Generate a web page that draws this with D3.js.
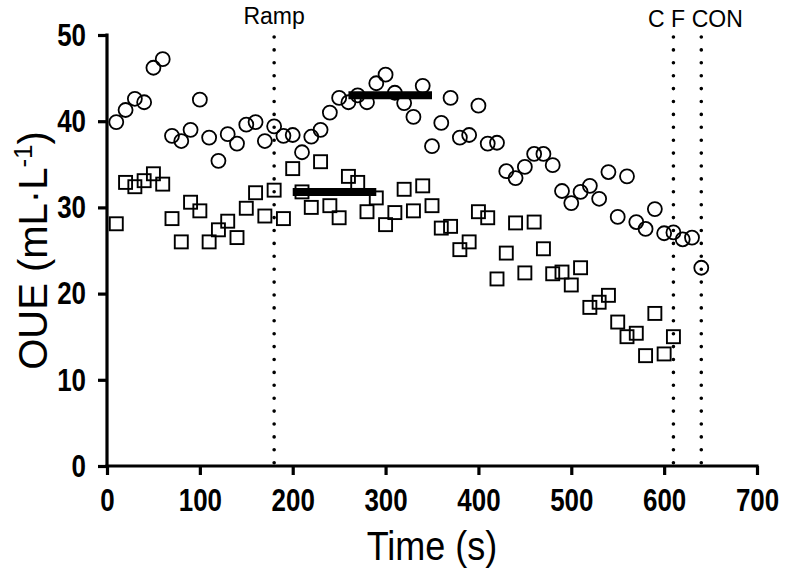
<!DOCTYPE html>
<html>
<head>
<meta charset="utf-8">
<script src="https://cdn.jsdelivr.net/npm/d3@7"></script>
<style>
  html, body { margin: 0; padding: 0; background: #fff; }
  svg { display: block; }
</style>
</head>
<body>
<svg id="chart" width="786" height="574"></svg>
<script>
// ---- data ----
const circleTimes = [10,20,30,40,50,60,70,80,90,100,110,120,130,140,150,160,170,180,190,200,
  210,220,230,240,250,260,270,280,290,300,310,320,330,340,350,360,370,380,390,400,
  410,420,430,440,450,460,470,480,490,500,510,520,530,540,550,560,570,580,590,600,
  610,620,630,640];
const circleValues = [39.9,41.3,42.6,42.2,46.2,47.2,38.3,37.7,39.0,42.5,
  38.1,35.4,38.5,37.4,39.6,39.9,37.7,39.4,38.3,38.4,
  36.4,38.2,39.0,41.0,42.7,42.2,43.0,42.2,44.4,45.4,
  43.3,42.1,40.5,44.1,37.1,39.8,42.7,38.1,38.4,41.8,
  37.4,37.5,34.2,33.4,34.7,36.2,36.2,34.9,31.9,30.5,
  31.8,32.5,31.0,34.1,28.9,33.6,28.3,27.5,29.8,27.0,
  27.1,26.3,26.5,23.0];
const squareTimes = [10,20,30,40,50,60,70,80,90,100,110,120,130,140,150,160,170,180,190,200,
  210,220,230,240,250,260,270,280,290,300,310,320,330,340,350,360,370,380,390,400,
  410,420,430,440,450,460,470,480,490,500,510,520,530,540,550,560,570,580,590,600,610];
const squareValues = [28.1,32.9,32.4,33.1,33.9,32.7,28.7,26.0,30.6,29.6,
  26.0,27.4,28.4,26.5,29.9,31.7,29.0,32.0,28.7,34.5,
  31.8,30.0,35.3,30.2,28.8,33.6,32.9,29.5,31.1,28.0,
  29.4,32.1,29.6,32.5,30.2,27.6,27.8,25.1,26.0,29.5,
  28.8,21.7,24.7,28.2,22.4,28.3,25.2,22.3,22.5,21.0,
  23.0,18.4,19.0,19.8,16.7,15.0,15.4,12.8,17.7,13.0,15.0];
const circleMean = {start: 260, end: 350, value: 43.0};
const squareMean = {start: 200, end: 290, value: 31.8};
const eventTimes = [180, 610, 640];
const eventLabels = [
  {text: "Ramp", t: 180, dx: 0, y: 24},
  {text: "C F", t: 610, dx: -7, y: 27},
  {text: "CON", t: 640, dx: 16, y: 27}
];
const xTicks = [0,100,200,300,400,500,600,700];
const yTicks = [0,10,20,30,40,50];

// ---- layout ----
const svg = d3.select("#chart");
const x = d3.scaleLinear().domain([0, 700]).range([107, 757]);
const y = d3.scaleLinear().domain([0, 50]).range([466, 35]);
const font = "'Liberation Sans', Arial, sans-serif";

// markers
const gC = svg.append("g");
gC.selectAll("circle").data(circleTimes).join("circle")
  .attr("cx", d => x(d))
  .attr("cy", (d, i) => y(circleValues[i]))
  .attr("r", 7)
  .attr("fill", "none")
  .attr("stroke", "#000")
  .attr("stroke-width", 1.8);

const s = 13;
const gS = svg.append("g");
gS.selectAll("rect").data(squareTimes).join("rect")
  .attr("x", d => x(d) - s / 2)
  .attr("y", (d, i) => y(squareValues[i]) - s / 2)
  .attr("width", s)
  .attr("height", s)
  .attr("fill", "none")
  .attr("stroke", "#000")
  .attr("stroke-width", 1.9);

// mean bars
[circleMean, squareMean].forEach(m => {
  svg.append("line")
    .attr("x1", x(m.start)).attr("x2", x(m.end))
    .attr("y1", y(m.value)).attr("y2", y(m.value))
    .attr("stroke", "#000").attr("stroke-width", 8);
});

// event dotted lines
svg.append("g").selectAll("line").data(eventTimes).join("line")
  .attr("x1", d => x(d)).attr("x2", d => x(d))
  .attr("y1", y(50) + 2).attr("y2", y(0))
  .attr("stroke", "#000")
  .attr("stroke-width", 3.6)
  .attr("stroke-linecap", "round")
  .attr("stroke-dasharray", "0,12.9");

svg.append("g").selectAll("text").data(eventLabels).join("text")
  .attr("x", d => x(d.t) + d.dx)
  .attr("y", d => d.y)
  .attr("text-anchor", "middle")
  .attr("font-family", font)
  .attr("font-size", 23)
  .text(d => d.text);

// axes
const xAxis = svg.append("g").attr("transform", "translate(0,466)")
  .call(d3.axisBottom(x).tickValues(xTicks).tickSize(9).tickSizeOuter(0));
const yAxis = svg.append("g").attr("transform", "translate(107,0)")
  .call(d3.axisLeft(y).tickValues(yTicks).tickSize(9).tickSizeOuter(0));
[xAxis, yAxis].forEach(a => {
  a.select(".domain").attr("stroke-width", 3.2).attr("stroke", "#000");
  a.selectAll(".tick line").attr("stroke-width", 3.2).attr("stroke", "#000");
  a.selectAll(".tick text")
    .attr("font-family", font)
    .attr("font-weight", "bold")
    .attr("font-size", 32)
    .attr("fill", "#000");
});
xAxis.selectAll(".tick text").attr("y", 0).attr("transform", "translate(0,22) scale(0.81,1)");
yAxis.selectAll(".tick text").attr("x", 0).attr("transform", "translate(-21,0) scale(0.81,1)");
xAxis.select(".domain").attr("d", `M${x(0) - 1.6},0H${x(700) + 1.6}`);
yAxis.select(".domain").attr("d", `M0,${y(0) + 1.6}V${y(50) - 1.6}`);

// axis titles
svg.append("text")
  .attr("transform", `translate(${x(350)},560) scale(0.9,1)`)
  .attr("text-anchor", "middle")
  .attr("font-family", font)
  .attr("font-size", 40)
  .text("Time (s)");

const yt = svg.append("text")
  .attr("transform", `translate(47,${y(25)}) rotate(-90)`)
  .attr("text-anchor", "middle")
  .attr("font-family", font)
  .attr("font-size", 40);
yt.append("tspan").text("OUE (mL·L");
yt.append("tspan").attr("dy", -15).attr("font-size", 26).text("-1");
yt.append("tspan").attr("dy", 15).text(")");
</script>
</body>
</html>
